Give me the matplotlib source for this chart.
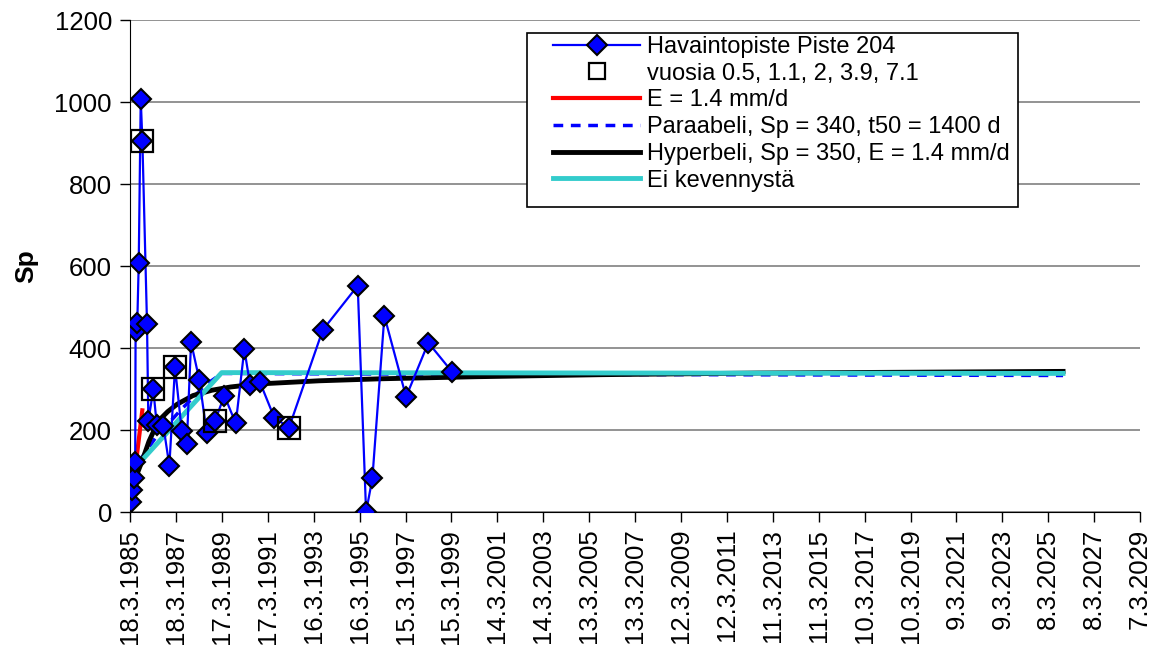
from datetime import date, timedelta

import matplotlib
matplotlib.use("Agg")
import matplotlib.pyplot as plt
from matplotlib.patches import Rectangle

plt.rcParams["font.family"] = ["Liberation Sans", "DejaVu Sans"]

START = date(1985, 3, 18)
END = date(2029, 3, 7)

# observations, days after 18.3.1985
obs_day = [21, 37, 59, 82, 88, 115, 138, 170, 196, 270, 291, 370, 425, 530,
           625, 715, 822, 902, 970, 1102, 1220, 1352, 1500, 1681, 1817, 1908,
           2067, 2294, 2528, 3064, 3620, 3753, 3853, 4044, 4389, 4743, 5125]
obs_sp = [25, 53, 84, 123, 442, 461, 607, 1008, 905, 458, 222, 299, 212, 210,
          113, 353, 198, 166, 414, 322, 192, 223, 284, 216, 397, 311,
          316, 230, 206, 444, 552, 0, 82, 478, 281, 413, 341]

# points at 0.5, 1.1, 2, 3.9 and 7.1 years
box_day = [196, 370, 715, 1352, 2528]
box_sp = [905, 299, 353, 223, 206]

e_day = [0, 195]
e_sp = [0, 248]

para_day = [150, 400, 800, 1200, 1460, 3000, 14835]
para_sp = [125, 180, 248, 310, 338, 337, 333]

hyp_day = [0, 50, 100, 200, 300, 450, 600, 750, 1000, 1300, 1600, 2000,
           2500, 3000, 4000, 5500, 7500, 10000, 12500, 14835]
hyp_sp = [0, 55, 88, 128, 172, 222, 245, 263, 284, 297, 305, 312,
          316, 320, 325, 330, 335, 339, 341, 343]

ei_day = [240, 1458, 14835]
ei_sp = [135, 340, 338]


def to_dates(days):
    return [START + timedelta(days=d) for d in days]


fig = plt.figure(figsize=(11.57, 6.52), dpi=100)
ax = fig.add_axes([0.1124, 0.2147, 0.873, 0.7546])

ax.plot(to_dates(e_day), e_sp, color="#ff0000", lw=3, zorder=3,
        label="E = 1.4 mm/d")
ax.plot(to_dates(para_day), para_sp, color="#0000ff", lw=2.5,
        dashes=(2.8, 2.2), zorder=3, label="Paraabeli, Sp = 340, t50 = 1400 d")
ax.plot(to_dates(hyp_day), hyp_sp, color="black", lw=3.5, zorder=4,
        label="Hyperbeli, Sp = 350, E = 1.4 mm/d")
ax.plot(to_dates(ei_day), ei_sp, color="#33cccc", lw=3.5, zorder=5,
        label="Ei kevennystä")
ax.plot(to_dates(obs_day), obs_sp, color="#0000ff", lw=1.6, marker="D",
        markersize=10, markerfacecolor="#0000ff", markeredgecolor="black",
        markeredgewidth=1.5, zorder=6, label="Havaintopiste Piste 204")
ax.plot(to_dates(box_day), box_sp, ls="none", marker="s", markersize=16,
        markerfacecolor="none", markeredgecolor="black", markeredgewidth=1.6,
        zorder=7, label="vuosia 0.5, 1.1, 2, 3.9, 7.1")

ax.set_xlim(START, END)
ax.set_ylim(0, 1200)

ticks = [START + timedelta(days=730 * i) for i in range(23)]
ax.set_xticks(ticks)
ax.set_xticklabels([f"{t.day}.{t.month}.{t.year}" for t in ticks],
                   rotation=90, fontsize=18.5)
ax.set_yticks(range(0, 1201, 200))
ax.tick_params(axis="y", labelsize=18.5, direction="out", length=7,
               width=1, pad=6)
ax.tick_params(axis="x", direction="out", length=7, width=1, pad=5)

ax.grid(axis="y", color="#808080", lw=1.2)
ax.set_axisbelow(True)
ax.spines["right"].set_visible(False)
ax.spines["top"].set_visible(False)

ax.set_ylabel("Sp", fontsize=19, fontweight="bold", labelpad=12)

handles, labels = ax.get_legend_handles_labels()
order = [4, 5, 0, 1, 2, 3]
leg = fig.legend([handles[i] for i in order], [labels[i] for i in order],
                 loc="upper left", bbox_to_anchor=(553 / 1157, 1 - 36 / 652),
                 bbox_transform=fig.transFigure, borderaxespad=0,
                 fontsize=17, handlelength=3.7, handletextpad=0.3,
                 labelspacing=0.2, borderpad=0, frameon=False)
leg.set_zorder(10)
leg.legend_handles[1].set_markersize(11)
leg.legend_handles[0].set_markersize(10)

# legend box drawn separately (Excel style: wide left padding)
fig.canvas.draw()
bb = leg.get_window_extent()
right = bb.x1 + 8
box = Rectangle((527 / 1157, 1 - 207 / 652), (right - 527) / 1157, 174 / 652,
                transform=fig.transFigure, facecolor="white",
                edgecolor="black", lw=1.2, zorder=9)
fig.add_artist(box)

fig.savefig("out.png", dpi=100)
